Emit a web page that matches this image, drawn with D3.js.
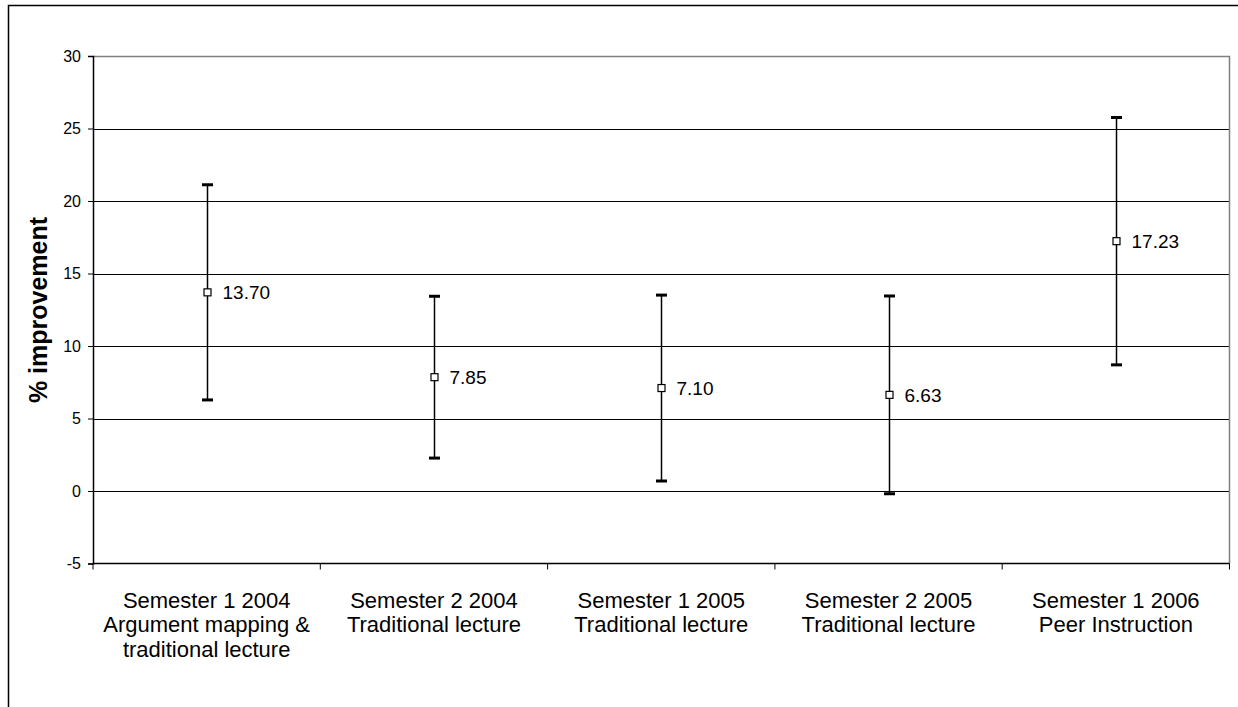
<!DOCTYPE html>
<html><head><meta charset="utf-8">
<script src="https://cdn.jsdelivr.net/npm/d3@7"></script>
<style>html,body{margin:0;padding:0;background:#fff;overflow:hidden}</style>
</head><body>
<svg id="chart" width="1238" height="707"></svg>
<script>
const categories = [
  ["Semester 1 2004", "Argument mapping &", "traditional lecture"],
  ["Semester 2 2004", "Traditional lecture"],
  ["Semester 1 2005", "Traditional lecture"],
  ["Semester 2 2005", "Traditional lecture"],
  ["Semester 1 2006", "Peer Instruction"]
];
const means = [13.70, 7.85, 7.10, 6.63, 17.23];
const errors = [7.42, 5.58, 6.41, 6.82, 8.53];
const yTicks = [-5, 0, 5, 10, 15, 20, 25, 30];
const yTitle = "% improvement";

const svg = d3.select("#chart");
const font = "Arial, 'Liberation Sans', sans-serif";
const L = 93, R = 1229.5, T = 56, B = 563.5;

svg.append("rect").attr("x", 8.5).attr("y", 5.5).attr("width", 1240).attr("height", 720)
  .attr("fill", "none").attr("stroke", "#000").attr("stroke-width", 1.5);

const x = d3.scaleBand().domain(d3.range(categories.length)).range([L, R]);
const y = d3.scaleLinear().domain([-5, 30]).range([B, T]);

// gridlines
svg.append("g").selectAll("line").data(yTicks.filter(t => t > -5 && t < 30)).join("line")
  .attr("x1", L).attr("x2", R).attr("y1", d => Math.round(y(d)) + 0.5).attr("y2", d => Math.round(y(d)) + 0.5)
  .attr("stroke", "#000").attr("stroke-width", 1.2);
// plot border top/right gray
svg.append("path").attr("d", `M${L},${T + 0.5}H${R}V${B}`).attr("fill", "none")
  .attr("stroke", "#808080").attr("stroke-width", 1.5);

// y axis
const yAxis = svg.append("g").attr("transform", `translate(${L},0)`)
  .call(d3.axisLeft(y).tickValues(yTicks).tickSize(5).tickPadding(7).tickFormat(d => String(d)));
yAxis.select(".domain").attr("stroke", "#000").attr("stroke-width", 1.5);
yAxis.selectAll(".tick line").attr("stroke", "#000");
yAxis.selectAll("text").attr("font-family", font).attr("font-size", 16).attr("fill", "#000");

// x axis
const xAxisG = svg.append("g").attr("transform", `translate(0,${B})`);
xAxisG.append("line").attr("x1", L).attr("x2", R).attr("stroke", "#000").attr("stroke-width", 1.5);
const bounds = d3.range(categories.length + 1).map(i => i < categories.length ? x(i) : x(categories.length - 1) + x.bandwidth());
xAxisG.selectAll("line.tk").data(bounds).join("line").attr("class", "tk")
  .attr("x1", d => d).attr("x2", d => d).attr("y1", 0).attr("y2", 6).attr("stroke", "#000").attr("stroke-width", 1);
const lab = xAxisG.selectAll("text").data(categories).join("text")
  .attr("x", (d, i) => x(i) + x.bandwidth() / 2).attr("y", 44)
  .attr("text-anchor", "middle").attr("font-family", font).attr("font-size", 22).attr("fill", "#000");
lab.selectAll("tspan").data(d => d).join("tspan")
  .attr("x", function () { return this.parentNode.getAttribute("x"); })
  .attr("dy", (d, i) => i === 0 ? 0 : 24.5).text(d => d);

// axis title
svg.append("text").attr("transform", `translate(47,310) rotate(-90)`)
  .attr("text-anchor", "middle").attr("font-family", font).attr("font-size", 25).attr("font-weight", "bold")
  .text(yTitle);

// error bars
const g = svg.append("g");
means.forEach((m, i) => {
  const cx = Math.round(x(i) + x.bandwidth() / 2) + 0.5;
  const lo = y(m - errors[i]), hi = y(m + errors[i]);
  g.append("line").attr("x1", cx).attr("x2", cx).attr("y1", hi).attr("y2", lo).attr("stroke", "#000").attr("stroke-width", 1.5);
  [hi, lo].forEach(v => g.append("line").attr("x1", cx - 5.5).attr("x2", cx + 5.5).attr("y1", v).attr("y2", v)
    .attr("stroke", "#000").attr("stroke-width", 3));
  g.append("rect").attr("x", cx - 3.5).attr("y", y(m) - 3.5).attr("width", 7).attr("height", 7)
    .attr("fill", "#fff").attr("stroke", "#000").attr("stroke-width", 1.2);
  g.append("text").attr("x", cx + 15).attr("y", y(m)).attr("dy", "0.36em")
    .attr("font-family", font).attr("font-size", 19).attr("fill", "#000").text(m.toFixed(2));
});
</script>
</body></html>
